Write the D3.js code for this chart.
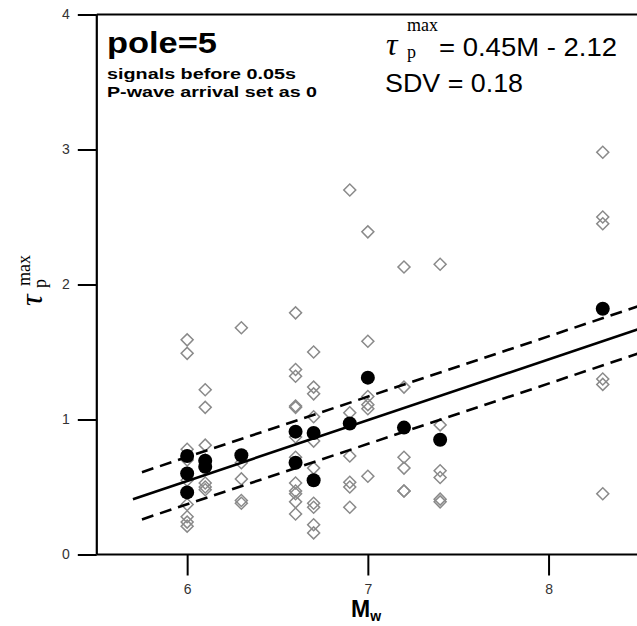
<!DOCTYPE html>
<html>
<head>
<meta charset="utf-8">
<script src="https://cdn.jsdelivr.net/npm/d3@7"></script>
<style>
  body { margin: 0; background: #fff; }
  svg { display: block; }
</style>
</head>
<body>
<svg width="637" height="626"></svg>
<script>
// magnitudes of the events, and per-station tau_p max values (open diamonds)
const eventM = [6.0, 6.1, 6.3, 6.6, 6.7, 6.9, 7.0, 7.2, 7.4, 8.3];
const stationTau = [
  [1.59, 1.49, 0.78, 0.70, 0.55, 0.37, 0.28, 0.24, 0.21],
  [1.22, 1.09, 0.81, 0.70, 0.53, 0.50, 0.48],
  [1.68, 0.68, 0.56, 0.40, 0.38],
  [1.79, 1.37, 1.32, 1.10, 1.09, 0.87, 0.72, 0.53, 0.47, 0.45, 0.39, 0.30],
  [1.50, 1.24, 1.19, 1.02, 0.84, 0.64, 0.38, 0.35, 0.22, 0.16],
  [2.70, 1.05, 0.73, 0.535, 0.50, 0.35],
  [2.39, 1.58, 1.17, 1.11, 1.08, 0.58],
  [2.13, 1.24, 0.72, 0.64, 0.47, 0.47],
  [2.15, 0.96, 0.62, 0.57, 0.41, 0.39],
  [2.98, 2.50, 2.45, 1.30, 1.26, 0.45]
];

// event averages (black dots)
const avgM   = [6.0, 6.0, 6.0, 6.1, 6.1, 6.3, 6.6, 6.6, 6.7, 6.7, 6.9, 7.0, 7.2, 7.4, 8.3];
const avgTau = [0.73, 0.60, 0.46, 0.695, 0.65, 0.735, 0.91, 0.68, 0.90, 0.55, 0.97, 1.31, 0.94, 0.85, 1.82];

// regression line and +/- SDV band, as drawn
const fitM = [5.70, 8.50];
const fitTau = [0.41, 1.67];
const bandM = [5.75, 8.50];
const upperTau = [0.61, 1.84];
const lowerTau = [0.26, 1.49];

const xMajor = [6, 7, 8];
const xMinor = [5.5, 6.5, 7.5, 8.5];
const yMajor = [0, 1, 2, 3, 4];
const yMinor = [0.5, 1.5, 2.5, 3.5];

const svg = d3.select('svg');
const x = d3.scaleLinear().domain([5.5, 8.5]).range([96.8, 638.9]);
const y = d3.scaleLinear().domain([0, 4]).range([554.5, 14.5]);

// axes
const gx = svg.append('g').attr('transform', `translate(0,${y(0)})`);
gx.call(d3.axisBottom(x).tickValues(xMinor).tickSize(11).tickFormat(''));
gx.call(d3.axisBottom(x).tickValues(xMajor).tickSize(21).tickPadding(9).tickFormat(d3.format('d')));

const gy = svg.append('g').attr('transform', `translate(${x(5.5)},0)`);
gy.call(d3.axisLeft(y).tickValues(yMinor).tickSize(10).tickFormat(''));
gy.call(d3.axisLeft(y).tickValues(yMajor).tickSize(19).tickPadding(8).tickFormat(d3.format('d')));

svg.selectAll('.domain').remove();
svg.selectAll('.tick line').attr('stroke', '#000').attr('stroke-width', 2);
svg.selectAll('.tick text')
  .attr('font-family', 'Liberation Sans, Arial, sans-serif')
  .attr('font-size', 14)
  .attr('fill', '#333');

// frame lines
svg.append('line')
  .attr('x1', x(5.5)).attr('x2', 637).attr('y1', y(0)).attr('y2', y(0))
  .attr('stroke', '#000').attr('stroke-width', 2.2);
svg.append('line')
  .attr('x1', x(5.5)).attr('x2', x(5.5)).attr('y1', y(4)).attr('y2', y(0))
  .attr('stroke', '#000').attr('stroke-width', 2.2);
svg.append('line')
  .attr('x1', x(5.5)).attr('x2', 637).attr('y1', y(4)).attr('y2', y(4))
  .attr('stroke', '#000').attr('stroke-width', 2.2);

// station diamonds
const stations = eventM.flatMap((m, i) => stationTau[i].map(t => ({ m, t })));
svg.append('g').selectAll('path')
  .data(stations)
  .enter()
  .append('path')
  .attr('d', d3.symbol().type(d3.symbolSquare).size(72))
  .attr('transform', d => `translate(${x(d.m)},${y(d.t)}) rotate(45)`)
  .attr('fill', 'none')
  .attr('stroke', '#8a8a8a')
  .attr('stroke-width', 1.5);

// fit lines
const line = d3.line().x(d => x(d[0])).y(d => y(d[1]));
svg.append('path')
  .attr('d', line(d3.zip(fitM, fitTau)))
  .attr('fill', 'none').attr('stroke', '#000').attr('stroke-width', 2.6);
[upperTau, lowerTau].forEach(band => {
  svg.append('path')
    .attr('d', line(d3.zip(bandM, band)))
    .attr('fill', 'none').attr('stroke', '#000').attr('stroke-width', 2.6)
    .attr('stroke-dasharray', '12,7');
});

// averages
svg.append('g').selectAll('circle')
  .data(d3.zip(avgM, avgTau))
  .enter()
  .append('circle')
  .attr('cx', d => x(d[0]))
  .attr('cy', d => y(d[1]))
  .attr('r', 7)
  .attr('fill', '#000');

// annotations
const sans = 'Liberation Sans, Arial, sans-serif';
const serif = 'Liberation Serif, Times New Roman, serif';

svg.append('text').attr('x', 107).attr('y', 53)
  .attr('font-family', sans).attr('font-weight', 'bold').attr('font-size', 30)
  .attr('textLength', 110).attr('lengthAdjust', 'spacingAndGlyphs')
  .text('pole=5');
svg.append('text').attr('x', 107).attr('y', 79)
  .attr('font-family', sans).attr('font-weight', 'bold').attr('font-size', 15.5)
  .attr('textLength', 189).attr('lengthAdjust', 'spacingAndGlyphs')
  .text('signals before 0.05s');
svg.append('text').attr('x', 107).attr('y', 97)
  .attr('font-family', sans).attr('font-weight', 'bold').attr('font-size', 15.5)
  .attr('textLength', 210).attr('lengthAdjust', 'spacingAndGlyphs')
  .text('P-wave arrival set as 0');

svg.append('text').attr('x', 386).attr('y', 55)
  .attr('font-family', serif).attr('font-style', 'italic').attr('font-size', 32)
  .text('τ');
svg.append('text').attr('x', 407).attr('y', 31)
  .attr('font-family', serif).attr('font-size', 18)
  .text('max');
svg.append('text').attr('x', 407).attr('y', 58)
  .attr('font-family', serif).attr('font-size', 18)
  .text('p');
svg.append('text').attr('x', 439).attr('y', 56)
  .attr('font-family', sans).attr('font-size', 25)
  .attr('textLength', 178).attr('lengthAdjust', 'spacingAndGlyphs')
  .text('= 0.45M - 2.12');
svg.append('text').attr('x', 385).attr('y', 92)
  .attr('font-family', sans).attr('font-size', 25)
  .attr('textLength', 138).attr('lengthAdjust', 'spacingAndGlyphs')
  .text('SDV = 0.18');

// y axis title
const ty = svg.append('g').attr('transform', 'translate(42,306) rotate(-90)');
ty.append('text').attr('x', 0).attr('y', 0)
  .attr('font-family', serif).attr('font-style', 'italic').attr('font-size', 32)
  .text('τ');
ty.append('text').attr('x', 18).attr('y', 4)
  .attr('font-family', serif).attr('font-size', 18)
  .text('p');
ty.append('text').attr('x', 20).attr('y', -12)
  .attr('font-family', serif).attr('font-size', 18)
  .text('max');

// x axis title
const tx = svg.append('text').attr('x', 351).attr('y', 617)
  .attr('font-family', sans).attr('font-weight', 'bold').attr('font-size', 23);
tx.append('tspan').text('M');
tx.append('tspan').attr('font-size', 14).attr('dy', 4).text('w');
</script>
</body>
</html>
